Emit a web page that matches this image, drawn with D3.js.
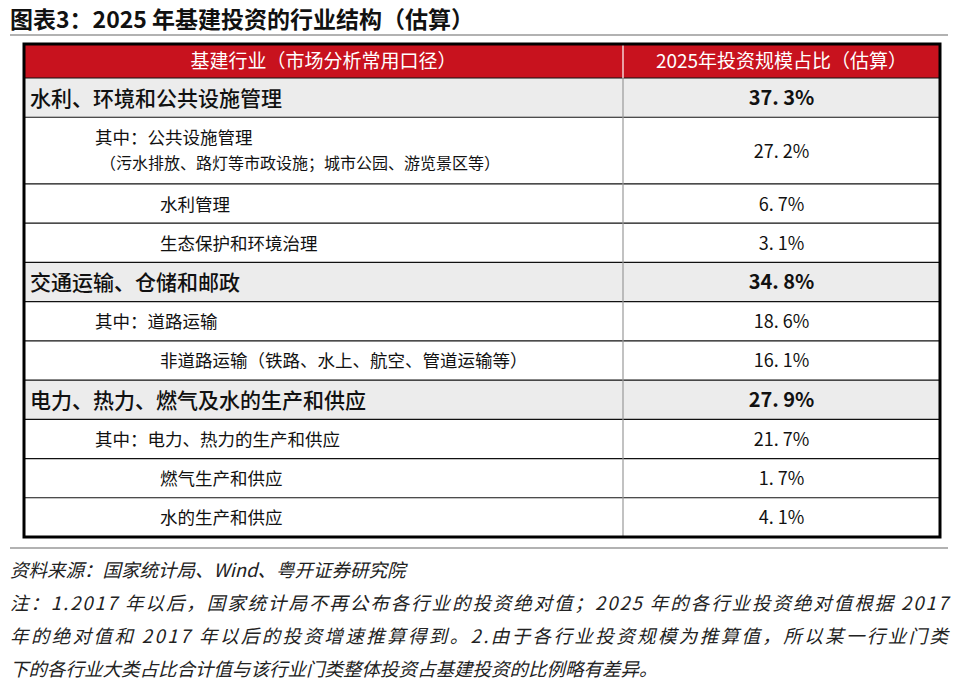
<!DOCTYPE html>
<html lang="zh">
<head>
<meta charset="utf-8">
<script src="https://cdn.jsdelivr.net/npm/d3@7"></script>
<style>
  body { margin: 0; background: #fff; }
  text { font-family: "Noto Sans CJK SC", sans-serif; }
</style>
</head>
<body>
<script>
var w = 960, h = 694;

// table content
var names = ["水利、环境和公共设施管理", "其中：公共设施管理", "水利管理", "生态保护和环境治理",
             "交通运输、仓储和邮政", "其中：道路运输", "非道路运输（铁路、水上、航空、管道运输等）",
             "电力、热力、燃气及水的生产和供应", "其中：电力、热力的生产和供应", "燃气生产和供应", "水的生产和供应"];
var levels = [0, 1, 2, 2, 0, 1, 2, 0, 1, 2, 2];
var notes = ["", "（污水排放、路灯等市政设施；城市公园、游览景区等）", "", "", "", "", "", "", "", "", ""];
var shares = [37.3, 27.2, 6.7, 3.1, 34.8, 18.6, 16.1, 27.9, 21.7, 1.7, 4.1];
var headers = ["基建行业（市场分析常用口径）", "2025年投资规模占比（估算）"];
var title = "图表3：2025 年基建投资的行业结构（估算）";
var footLines = ["资料来源：国家统计局、Wind、粤开证券研究院",
  "注：1.2017 年以后，国家统计局不再公布各行业的投资绝对值；2025 年的各行业投资绝对值根据 2017",
  "年的绝对值和 2017 年以后的投资增速推算得到。2.由于各行业投资规模为推算值，所以某一行业门类",
  "下的各行业大类占比合计值与该行业门类整体投资占基建投资的比例略有差异。"];

var svg = d3.select("body").append("svg").attr("width", w).attr("height", h);

var tLeft = 24, tRight = 940, mid = 623, tTop = 44, headBot = 78, tBot = 537;

// row units: two-line rows are taller
var units = notes.map(function(n) { return n ? 1.7 : 1; });
var cum = [0];
units.forEach(function(u, i) { cum.push(cum[i] + u); });
var yScale = d3.scaleLinear().domain([0, cum[cum.length - 1]]).range([headBot, tBot]);
var xIndent = d3.scaleLinear().domain([0, 2]).range([30, 160]);

// title
svg.append("text").attr("x", 10).attr("y", 28).attr("font-size", 23).attr("font-weight", "bold")
   .attr("fill", "#111").text(title);
svg.append("line").attr("x1", 10).attr("x2", 948).attr("y1", 35).attr("y2", 35)
   .attr("stroke", "#999").attr("stroke-width", 1.5);

// header
svg.append("rect").attr("x", tLeft).attr("y", tTop).attr("width", tRight - tLeft).attr("height", headBot - tTop)
   .attr("fill", "#c8121e");
svg.selectAll(".hd").data(headers).enter().append("text")
   .attr("x", function(d, i) { return i ? (mid + tRight) / 2 : (tLeft + mid) / 2; })
   .attr("y", 68).attr("text-anchor", "middle").attr("font-size", 19).attr("fill", "#fff")
   .text(function(d) { return d; });

// rows
var rows = svg.selectAll(".row").data(names).enter().append("g");
rows.append("rect")
   .attr("x", tLeft).attr("width", tRight - tLeft)
   .attr("y", function(d, i) { return yScale(cum[i]); })
   .attr("height", function(d, i) { return yScale(cum[i + 1]) - yScale(cum[i]); })
   .attr("fill", function(d, i) { return levels[i] === 0 ? "#ececec" : "#fff"; });
rows.append("line")
   .attr("x1", tLeft).attr("x2", tRight)
   .attr("y1", function(d, i) { return yScale(cum[i]); })
   .attr("y2", function(d, i) { return yScale(cum[i]); })
   .attr("stroke", "#111").attr("stroke-width", 1.2);
rows.append("text")
   .attr("x", function(d, i) { return levels[i] === 1 ? 95 : xIndent(levels[i]); })
   .attr("y", function(d, i) {
     var y0 = yScale(cum[i]), y1 = yScale(cum[i + 1]);
     return notes[i] ? y0 + 27 : (y0 + y1) / 2 + (levels[i] === 0 ? 8 : 7);
   })
   .attr("font-size", function(d, i) { return levels[i] === 0 ? 21 : 17.5; })
   .attr("font-weight", function(d, i) { return levels[i] === 0 ? 500 : 400; })
   .attr("fill", "#111")
   .text(function(d) { return d; });
rows.filter(function(d, i) { return notes[i]; }).append("text")
   .attr("x", 100)
   .attr("y", function(d) { var i = names.indexOf(d); return yScale(cum[i]) + 52; })
   .attr("font-size", 16).attr("fill", "#111")
   .text(function(d) { return notes[names.indexOf(d)]; });
rows.append("text")
   .attr("x", (mid + tRight) / 2)
   .attr("y", function(d, i) { return (yScale(cum[i]) + yScale(cum[i + 1])) / 2 + 7; })
   .attr("text-anchor", "middle")
   .attr("font-family", "'Liberation Serif', serif")
   .attr("font-size", function(d, i) { return levels[i] === 0 ? 20 : 18; })
   .attr("font-weight", function(d, i) { return levels[i] === 0 ? "bold" : "normal"; })
   .attr("fill", "#111")
   .text(function(d, i) { return shares[i].toFixed(1).replace(".", ". ") + "%"; });

// column divider and frame
svg.append("line").attr("x1", mid).attr("x2", mid).attr("y1", headBot).attr("y2", tBot)
   .attr("stroke", "#999").attr("stroke-width", 1.2);
svg.append("line").attr("x1", mid).attr("x2", mid).attr("y1", tTop).attr("y2", headBot)
   .attr("stroke", "#fff").attr("stroke-width", 1.2);
svg.append("rect").attr("x", tLeft).attr("y", tTop).attr("width", tRight - tLeft).attr("height", tBot - tTop)
   .attr("fill", "none").attr("stroke", "#000").attr("stroke-width", 3);

svg.append("line").attr("x1", 10).attr("x2", 948).attr("y1", 548).attr("y2", 548)
   .attr("stroke", "#999").attr("stroke-width", 1.5);

// footnotes
svg.selectAll(".ft").data(footLines).enter().append("text")
   .attr("x", 10).attr("y", function(d, i) { return 577 + i * 33; })
   .attr("font-size", 18.5).attr("font-style", "italic").attr("fill", "#222")
   .attr("textLength", function(d, i) { return i === 1 || i === 2 ? 938 : null; })
   .attr("lengthAdjust", "spacing")
   .text(function(d) { return d; });
</script>
</body>
</html>
